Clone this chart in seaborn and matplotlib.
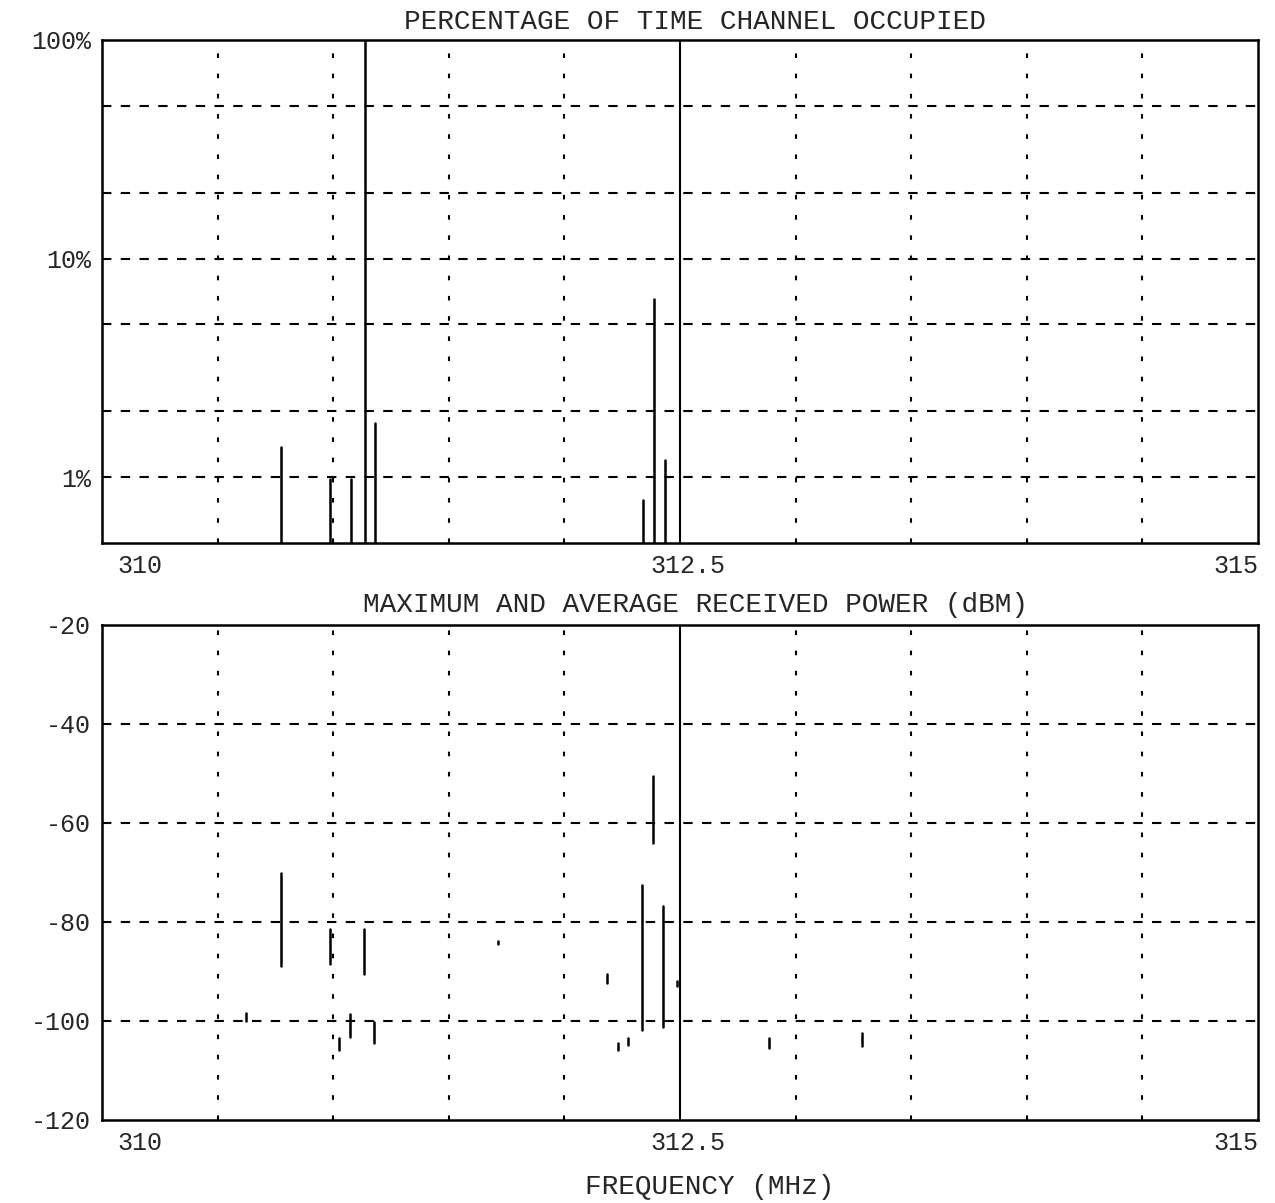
import numpy as np
import pandas as pd
import matplotlib
matplotlib.use("Agg")
import matplotlib.pyplot as plt
import matplotlib.transforms as mtransforms
import seaborn as sns

# ---------------- data ----------------
occ_freq = [310.774, 310.986, 311.077, 311.138, 311.181, 312.340, 312.388, 312.436]
occ_pct = [1.37, 0.98, 0.98, 100.0, 1.77, 0.79, 6.55, 1.20]

pw_freq = [310.623, 310.774, 310.986, 311.025, 311.073, 311.133, 311.176, 311.713,
           312.184, 312.232, 312.275, 312.336, 312.383, 312.426, 312.487, 312.885, 313.287]
pw_max = [-98.4, -70.1, -81.4, -103.4, -98.6, -81.4, -100.2, -83.8,
          -90.6, -104.4, -103.4, -72.5, -50.5, -76.8, -92.0, -103.4, -102.4]
pw_avg = [-100.0, -88.9, -88.4, -105.9, -103.2, -90.5, -104.4, -84.4,
          -92.3, -105.9, -104.8, -101.8, -64.0, -101.2, -93.0, -105.4, -105.0]

x_ticks = [310, 312.5, 315]
x_ticklabels = ["310", "312.5", "315"]
occ_yticks = [1, 10, 100]
occ_yticklabels = ["1%", "10%", "100%"]
occ_grid = [1, 2, 5, 10, 20, 50]
pw_yticks = [-120, -100, -80, -60, -40, -20]
pw_grid = [-100, -80, -60, -40]
x_grid = [310.5, 311.0, 311.5, 312.0, 313.0, 313.5, 314.0, 314.5]
center_freq = 312.5

title_top = "PERCENTAGE OF TIME CHANNEL OCCUPIED"
title_bot = "MAXIMUM AND AVERAGE RECEIVED POWER (dBM)"
xlabel = "FREQUENCY (MHz)"

# ---------------- style ----------------
sns.set_style("white")
plt.rcParams['font.family'] = ['Liberation Mono', 'DejaVu Sans Mono']
plt.rcParams['axes.linewidth'] = 1.8

fig = plt.figure(figsize=(12.75, 12.03), dpi=100)
ax1 = fig.add_axes([0.0800, 0.5486, 0.9067, 0.4182])
ax2 = fig.add_axes([0.0800, 0.0690, 0.9067, 0.4115])

base = 0.5
# long-form segments for seaborn
occ_df = pd.DataFrame({
    "freq": np.repeat(occ_freq, 2),
    "val": np.ravel([[base, v] for v in occ_pct]),
    "seg": np.repeat(np.arange(len(occ_freq)), 2),
})
pw_df = pd.DataFrame({
    "freq": np.repeat(pw_freq, 2),
    "val": np.ravel([[a, b] for a, b in zip(pw_max, pw_avg)]),
    "seg": np.repeat(np.arange(len(pw_freq)), 2),
})

hdash = (0, (4.5, 4.5))
vdash = (0, (2.2, 7.5))
for ax in (ax1, ax2):
    for gx in x_grid:
        ax.axvline(gx, color="black", lw=1.5, ls=vdash, zorder=1)
    ax.axvline(center_freq, color="black", lw=1.5, zorder=2)

for gy in occ_grid:
    ax1.axhline(gy, color="black", lw=1.5, ls=hdash, zorder=1)
for gy in pw_grid:
    ax2.axhline(gy, color="black", lw=1.5, ls=hdash, zorder=1)

ax1.set_yscale("log")
sns.lineplot(data=occ_df, x="freq", y="val", units="seg", estimator=None,
             sort=False, color="black", lw=1.8, ax=ax1, legend=False)
sns.lineplot(data=pw_df, x="freq", y="val", units="seg", estimator=None,
             sort=False, color="black", lw=1.8, ax=ax2, legend=False)

ax1.set_ylim(0.5, 100)
ax2.set_ylim(-120, -20)
offsets = [15, 8, 0]
for ax in (ax1, ax2):
    ax.set_xlim(310, 315)
    ax.set_xlabel("")
    ax.set_ylabel("")
    ax.set_xticks(x_ticks)
    ax.set_xticklabels(x_ticklabels)
    ax.tick_params(axis="both", length=0, labelsize=18, pad=8)
    labs = ax.get_xticklabels()
    labs[0].set_ha("left")
    labs[-1].set_ha("right")
    for lab, off in zip(labs, offsets):
        lab.set_transform(lab.get_transform() +
                          mtransforms.ScaledTranslation(off / 100, 0, fig.dpi_scale_trans))
    for s in ax.spines.values():
        s.set_color("black")
        s.set_linewidth(1.8)

ax1.set_yticks(occ_yticks)
ax1.set_yticklabels(occ_yticklabels)
ax1.yaxis.set_minor_locator(matplotlib.ticker.NullLocator())
ax2.set_yticks(pw_yticks)
ax2.set_yticklabels([str(v) for v in pw_yticks])

ax1.set_title(title_top, fontsize=20, pad=8, x=0.513)
ax2.set_title(title_bot, fontsize=20, pad=9, x=0.513)
fig.text(0.557, 1 - 1187 / 1203, xlabel, ha="center", va="center", fontsize=20)

fig.savefig("out.png", dpi=100, facecolor="white")
